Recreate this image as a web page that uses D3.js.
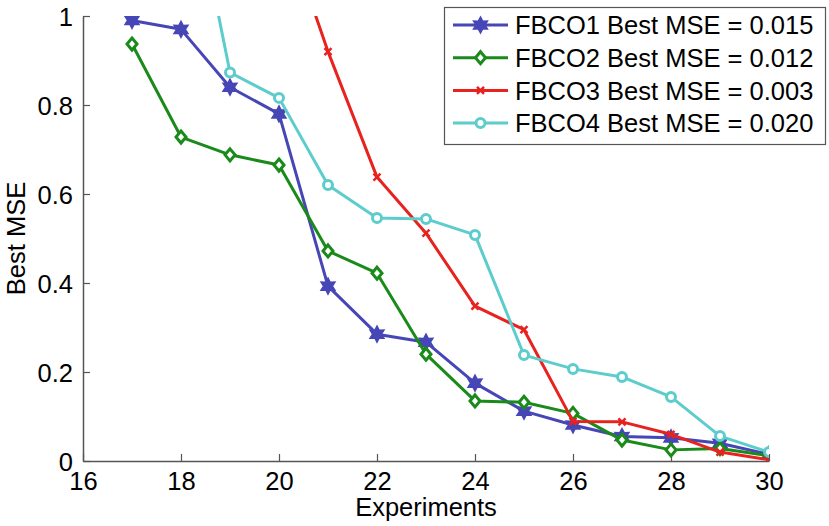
<!DOCTYPE html>
<html><head><meta charset="utf-8">
<script src="https://cdn.jsdelivr.net/npm/d3@7"></script>
<style>body{margin:0;background:#fff}svg{display:block}text{font-family:"Liberation Sans",Arial,sans-serif;fill:#000}</style>
</head><body>
<svg id="chart" width="829" height="526"></svg>
<script>
const xTicks = [16,18,20,22,24,26,28,30];
const yTicks = [0,0.2,0.4,0.6,0.8,1];
const yTickLabels = ["0","0.2","0.4","0.6","0.8","1"];
const seriesNames = ["FBCO1 Best MSE = 0.015","FBCO2 Best MSE = 0.012","FBCO3 Best MSE = 0.003","FBCO4 Best MSE = 0.020"];
const fbco1X = [17,18,19,20,21,22,23,24,25,26,27,28,29,30];
const fbco1Y = [0.99,0.97,0.84,0.78,0.393,0.285,0.267,0.175,0.112,0.081,0.055,0.052,0.04,0.015];
const fbco2X = [17,18,19,20,21,22,23,24,25,26,27,28,29,30];
const fbco2Y = [0.937,0.728,0.688,0.665,0.472,0.422,0.24,0.135,0.132,0.107,0.047,0.025,0.028,0.012];
const fbco3X = [20,21,22,23,24,25,26,27,28,29,30];
const fbco3Y = [1.24,0.92,0.638,0.512,0.348,0.295,0.089,0.088,0.06,0.02,0.003];
const fbco4X = [18,19,20,21,22,23,24,25,26,27,28,29,30];
const fbco4Y = [1.42,0.873,0.816,0.62,0.546,0.544,0.508,0.238,0.207,0.189,0.144,0.056,0.02];
const colors = ["#4646b6","#1a8a1a","#e8221e","#5ccccc"];
const markers = ["hexagram","diamond","x","circle"];

const svg = d3.select("#chart");
const L=83,R=769,T=16,B=461;
const x = d3.scaleLinear().domain([16,30]).range([L,R]);
const y = d3.scaleLinear().domain([0,1]).range([B,T]);
const FS = 25.5;

svg.append("defs").append("clipPath").attr("id","clip")
  .append("rect").attr("x",L).attr("y",T).attr("width",R-L).attr("height",B-T);

const xAxis = d3.axisBottom(x).tickValues(xTicks).tickSizeInner(-7).tickSizeOuter(0).tickPadding(11);
const gx = svg.append("g").attr("transform",`translate(0,${B})`).call(xAxis);
const yAxis = d3.axisLeft(y).tickValues(yTicks).tickFormat((d,i)=>yTickLabels[i]).tickSizeInner(-7).tickSizeOuter(0).tickPadding(10);
const gy = svg.append("g").attr("transform",`translate(${L},0)`).call(yAxis);
[gx,gy].forEach(g=>{
  g.select(".domain").attr("stroke","#555").attr("stroke-width",1.5);
  g.selectAll(".tick line").attr("stroke","#555").attr("stroke-width",1.2);
  g.selectAll(".tick text").attr("font-size",FS).attr("font-family","Liberation Sans, Arial, sans-serif").attr("fill","#000");
});
gy.selectAll(".tick text").attr("dy","0.36em");

svg.append("text").attr("x",(L+R)/2).attr("y",516).attr("text-anchor","middle").attr("font-size",FS).text("Experiments");
svg.append("text").attr("transform",`translate(25,${(T+B)/2}) rotate(-90)`).attr("text-anchor","middle").attr("font-size",FS).text("Best MSE");

function hexagram(r){
  const pts=[];
  for(let i=0;i<12;i++){
    const a=-Math.PI/2+i*Math.PI/6;
    const rr = i%2===0?r:r*0.55;
    pts.push([Math.cos(a)*rr,Math.sin(a)*rr]);
  }
  return "M"+pts.map(p=>p.join(",")).join("L")+"Z";
}
function drawMarker(g,type,cx,cy,color){
  if(type==="hexagram"){
    g.append("path").attr("d",hexagram(8)).attr("transform",`translate(${cx},${cy})`)
      .attr("fill",color).attr("stroke",color).attr("stroke-width",1.5);
  } else if(type==="diamond"){
    g.append("path").attr("d","M0,-6L5,0L0,6L-5,0Z").attr("transform",`translate(${cx},${cy})`)
      .attr("fill","#fff").attr("stroke",color).attr("stroke-width",3);
  } else if(type==="x"){
    g.append("path").attr("d","M-3.5,-3.5L3.5,3.5M-3.5,3.5L3.5,-3.5").attr("transform",`translate(${cx},${cy})`)
      .attr("fill","none").attr("stroke",color).attr("stroke-width",2.5);
  } else {
    g.append("circle").attr("cx",cx).attr("cy",cy).attr("r",4.5)
      .attr("fill","#fff").attr("stroke",color).attr("stroke-width",3);
  }
}

const allSeries = [[fbco1X,fbco1Y],[fbco2X,fbco2Y],[fbco3X,fbco3Y],[fbco4X,fbco4Y]];
const line = d3.line().x(d=>x(d[0])).y(d=>y(d[1]));
const plot = svg.append("g").attr("clip-path","url(#clip)");
allSeries.forEach((s,i)=>{
  const data = s[0].map((v,j)=>[v,s[1][j]]);
  plot.append("path").datum(data).attr("d",line).attr("fill","none")
    .attr("stroke",colors[i]).attr("stroke-width",3).attr("stroke-linejoin","round");
  data.forEach(d=>drawMarker(plot,markers[i],x(d[0]),y(d[1]),colors[i]));
});

const lg = svg.append("g");
lg.append("rect").attr("x",444.5).attr("y",7.5).attr("width",381).attr("height",137)
  .attr("fill","#fff").attr("stroke","#555").attr("stroke-width",1.2);
seriesNames.forEach((n,i)=>{
  const cy = 25 + i*32.7;
  lg.append("line").attr("x1",453).attr("x2",508).attr("y1",cy).attr("y2",cy)
    .attr("stroke",colors[i]).attr("stroke-width",3);
  drawMarker(lg,markers[i],480.5,cy,colors[i]);
  lg.append("text").attr("x",515).attr("y",cy).attr("dy","0.36em").attr("font-size",FS).text(n);
});
</script>
</body></html>
